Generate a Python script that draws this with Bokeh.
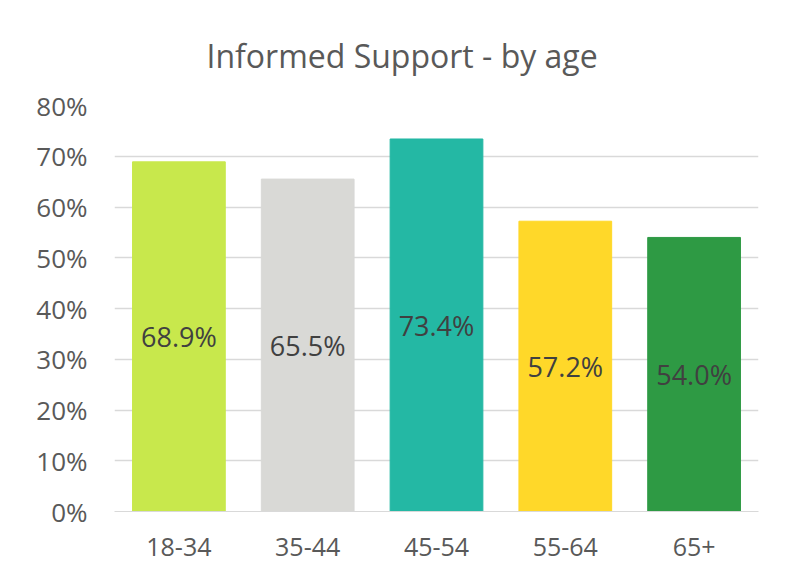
from bokeh.plotting import figure
from bokeh.models import ColumnDataSource, NumeralTickFormatter, FixedTicker, Range1d
from bokeh.core.properties import value
from bokeh.embed import file_html
from bokeh.resources import INLINE

title_text = "Informed Support - by age"
categories = ["18-34", "35-44", "45-54", "55-64", "65+"]
support = [0.689, 0.655, 0.734, 0.572, 0.540]
labels = ["68.9%", "65.5%", "73.4%", "57.2%", "54.0%"]
colors = ["#C8E84C", "#D9D9D6", "#24B8A4", "#FFD829", "#2E9A44"]
y_ticks = [0.0, 0.1, 0.2, 0.3, 0.4, 0.5, 0.6, 0.7, 0.8]

FONT = "Open Sans"

src = ColumnDataSource(dict(
    cat=categories, val=support, mid=[v / 2 for v in support],
    lab=labels, color=colors,
))

p = figure(x_range=categories, y_range=Range1d(0, 0.8),
           width=774, height=563, output_backend="svg", toolbar_location=None,
           min_border_left=114, min_border_right=16, min_border_top=105,
           min_border_bottom=52)

p.title.text = title_text
p.title.align = "left"
p.title.text_font = FONT
p.title.text_font_size = "32px"
p.title.text_font_style = "normal"
p.title.text_color = "#595959"
p.title.offset = 92
p.title.standoff = 58

p.vbar(x="cat", top="val", width=0.72, color="color", source=src)
p.text(x="cat", y="mid", text="lab", source=src, text_align="center",
       text_baseline="middle", text_font=value(FONT), text_font_size="27px",
       text_color="#404040")

p.yaxis.ticker = FixedTicker(ticks=y_ticks)
p.yaxis.formatter = NumeralTickFormatter(format="0%")
for ax in (p.xaxis, p.yaxis):
    ax.major_label_text_font = FONT
    ax.major_label_text_color = "#595959"
    ax.major_tick_line_color = None
    ax.minor_tick_line_color = None
p.yaxis.major_label_text_font_size = "26px"
p.xaxis.major_label_text_font_size = "25px"
p.yaxis.axis_line_color = None
p.xaxis.axis_line_color = "#D9D9D9"
p.yaxis.major_label_standoff = 21
p.xaxis.major_label_standoff = 20

p.xgrid.grid_line_color = None
p.ygrid.grid_line_color = "#D9D9D9"
p.ygrid.grid_line_width = 1.5
p.outline_line_color = None
p.x_range.range_padding = 0.0

open("out.html", "w").write(file_html(p, INLINE))
